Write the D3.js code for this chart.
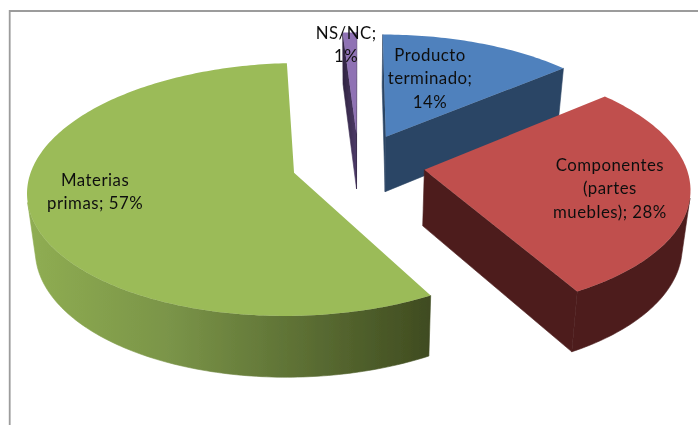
<!DOCTYPE html>
<html><head><meta charset="utf-8">
<script src="https://cdn.jsdelivr.net/npm/d3@7"></script>
<style>html,body{margin:0;padding:0;background:#fff}svg{display:block}</style>
</head><body><div id="c"></div>
<script>
const categories = ["Producto terminado","Componentes (partes muebles)","Materias primas","NS/NC"];
const values = [13.9,28,57.1,1];
const labelLines = [["Producto","terminado;","14%"],["Componentes","(partes","muebles); 28%"],["Materias","primas; 57%"],["NS/NC;","1%"]];
const topColors = ["#4f81bd","#c0504d","#9bbb59","#8f72b4"];
const sideColors = ["#2b4565","#4e1f1f","url(#gs)","url(#ps)"];
const drawOrder = [3,0,2,1];
const W=698,H=425;
const cx=358.5,cy=164,R=261,S=122,k=0.13,ex=0.255,D=56,sf=0.975;
const labelNudge=[[-16,3],[6,4],[6,-8.5],[-3,20]];
const rad=Math.PI/180;
const svg=d3.select("#c").append("svg").attr("width",W).attr("height",H);
const defs=svg.append("defs");
const g1=defs.append("linearGradient").attr("id","gs").attr("gradientUnits","userSpaceOnUse").attr("x1",30).attr("x2",432).attr("y1",0).attr("y2",0);
g1.append("stop").attr("offset",0).attr("stop-color","#8fad52");
g1.append("stop").attr("offset",0.35).attr("stop-color","#7a9448");
g1.append("stop").attr("offset",1).attr("stop-color","#3f4b20");
const g2=defs.append("linearGradient").attr("id","ps").attr("x1",0).attr("x2",1).attr("y1",0).attr("y2",0);
g2.append("stop").attr("offset",0).attr("stop-color","#2f2340");
g2.append("stop").attr("offset",1).attr("stop-color","#4d3a68");
defs.append("filter").attr("id","soft").append("feGaussianBlur").attr("stdDeviation",0.5);
defs.append("filter").attr("id","softText").append("feGaussianBlur").attr("stdDeviation",0.3);

svg.append("path").attr("d",`M9.7,${H}V11H${W}`).attr("fill","none").attr("stroke","#9c9c9c").attr("stroke-width",1.8);

const pie=d3.pie().sort(null);
const arcs=pie(values);
function proj(a,b,z){const w=1-k*b,s=z?sf:1;return [cx+R*a/w*s,cy+S*b/w*s+(z?D/w:0)];}
const line=d3.line();
const chart=svg.append("g").attr("filter","url(#soft)");
const sliceGeom=arcs.map(d=>{
  const m=(d.startAngle+d.endAngle)/2;
  const o=[ex*Math.sin(m),-ex*Math.cos(m)];
  const n=Math.max(4,Math.round((d.endAngle-d.startAngle)/(1*rad)));
  const pts=d3.range(n+1).map(i=>{const t=d.startAngle+(d.endAngle-d.startAngle)*i/n;return [o[0]+Math.sin(t),o[1]-Math.cos(t)];});
  return {m,o,pts};
});
drawOrder.forEach(i=>{
  const {o,pts}=sliceGeom[i];
  const g=chart.append("g");
  const first=pts[0],last=pts[pts.length-1];
  const quad=(p)=>[...p.map(q=>proj(q[0],q[1],0)),...p.slice().reverse().map(q=>proj(q[0],q[1],1))];
  const wall=(p)=>g.append("path").attr("d",line(quad(p))+"Z").attr("fill",sideColors[i]).attr("stroke",sideColors[i]).attr("stroke-width",0.6);
  if(d3.polygonArea(quad([o,first]))>0) wall([o,first]);
  if(d3.polygonArea(quad([last,o]))>0) wall([last,o]);
  const vis=d3.range(pts.length-1).filter(j=>d3.polygonArea(quad([pts[j],pts[j+1]]))>0);
  if(vis.length) wall(pts.slice(vis[0],vis[vis.length-1]+2));
  g.append("path").attr("d",line([proj(o[0],o[1],0),...pts.map(q=>proj(q[0],q[1],0))])+"Z").attr("fill",topColors[i]);
});
const lab=svg.append("g").attr("filter","url(#softText)").attr("font-family","Lato, Carlito, sans-serif").attr("font-size",16.8).attr("letter-spacing",0.5).attr("fill","#111").attr("text-anchor","middle");
const labelR=[0.62,0.68,0.78,1.08];
sliceGeom.forEach((s,i)=>{
  const p=proj(s.o[0]+labelR[i]*Math.sin(s.m),s.o[1]-labelR[i]*Math.cos(s.m),0);
  const n=labelLines[i].length;
  labelLines[i].forEach((t,j)=>{
    lab.append("text").attr("x",p[0]+labelNudge[i][0]).attr("y",p[1]+labelNudge[i][1]+(j-(n-1)/2)*23.5+5).text(t);
  });
});
</script></body></html>
